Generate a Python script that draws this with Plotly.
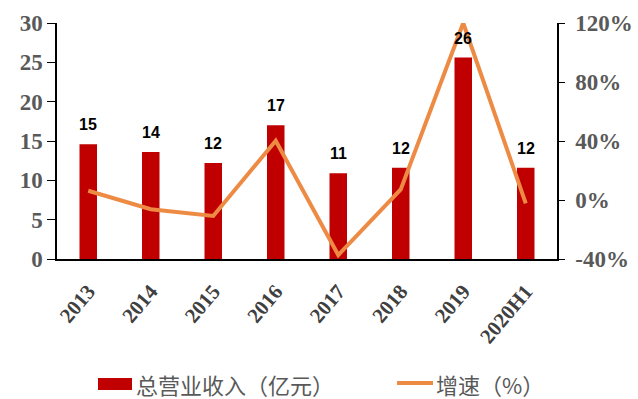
import plotly.graph_objects as go

categories = ["2013", "2014", "2015", "2016", "2017", "2018", "2019", "2020H1"]
revenue = [14.6, 13.6, 12.2, 17.0, 10.9, 11.6, 25.6, 11.6]
revenue_labels = ["15", "14", "12", "17", "11", "12", "26", "12"]
growth = [6.3, -6.3, -10.8, 40.2, -37.3, 7.2, 120.0, -2.3]

bar_name = "总营业收入（亿元）"
line_name = "增速（%）"

BAR_COLOR = "#C00000"
LINE_COLOR = "#ED8B45"

fig = go.Figure()
fig.add_trace(go.Bar(
    x=categories, y=revenue, name=bar_name,
    marker=dict(color=BAR_COLOR, line=dict(width=0)),
    yaxis="y", showlegend=False,
))
fig.add_trace(go.Scatter(
    x=categories, y=growth, name=line_name, mode="lines",
    line=dict(color=LINE_COLOR, width=4),
    yaxis="y2", showlegend=False,
))

for i, (v, t) in enumerate(zip(revenue, revenue_labels)):
    fig.add_annotation(
        x=i, y=v, text=t, showarrow=False, xref="x", yref="y",
        yanchor="bottom", yshift=9,
        font=dict(family="Liberation Sans", size=16, color="#000000", weight="bold"),
    )

# plot area: x 57..557 px, y 23..259 px
def px_x(p):
    return (p - 57) / 500.0

def px_y(p):
    return (259 - p) / 236.0

legend_font = dict(family="Noto Sans CJK SC", size=22, color="#595959")
# manual legend (bar swatch + label, line swatch + label)
fig.add_shape(type="rect", xref="paper", yref="paper",
              x0=px_x(98), x1=px_x(132), y0=px_y(390), y1=px_y(378),
              fillcolor=BAR_COLOR, line=dict(width=0))
fig.add_annotation(xref="paper", yref="paper", x=px_x(134), y=px_y(384),
                   xanchor="left", yanchor="middle", text=bar_name,
                   showarrow=False, font=legend_font)
fig.add_shape(type="line", xref="paper", yref="paper",
              x0=px_x(397), x1=px_x(433), y0=px_y(383), y1=px_y(383),
              line=dict(color=LINE_COLOR, width=4))
fig.add_annotation(xref="paper", yref="paper", x=px_x(434), y=px_y(384),
                   xanchor="left", yanchor="middle", text=line_name,
                   showarrow=False, font=legend_font)

tick_font = dict(family="Liberation Serif", size=23, color="#595959", weight="bold")

fig.update_layout(
    width=638, height=399,
    margin=dict(l=57, r=81, t=23, b=140),
    plot_bgcolor="white", paper_bgcolor="white",
    bargap=0.72,
    showlegend=False,
    xaxis=dict(
        type="category", tickangle=-50, range=[-0.5, len(categories) - 0.5],
        tickfont=dict(family="Liberation Serif", size=21, color="#404040", weight="bold"),
        showline=True, linecolor="#000000", linewidth=1.5,
        ticks="", showgrid=False, automargin=False, ticklabelstandoff=10,
    ),
    yaxis=dict(
        range=[0, 30], tickvals=[0, 5, 10, 15, 20, 25, 30],
        tickfont=tick_font, showgrid=False, zeroline=False,
        showline=True, linecolor="#000000", linewidth=1.5,
        ticks="outside", ticklen=8, tickcolor="#000000", automargin=False,
    ),
    yaxis2=dict(
        overlaying="y", side="right",
        range=[-40, 120], tickvals=[-40, 0, 40, 80, 120],
        ticktext=["-40%", "0%", "40%", "80%", "120%"],
        tickfont=tick_font, showgrid=False, zeroline=False,
        showline=True, linecolor="#000000", linewidth=1.5,
        ticks="outside", ticklen=6, tickcolor="#000000", automargin=False,
        ticklabelstandoff=6,
    ),
)

fig.write_html("out.html")
